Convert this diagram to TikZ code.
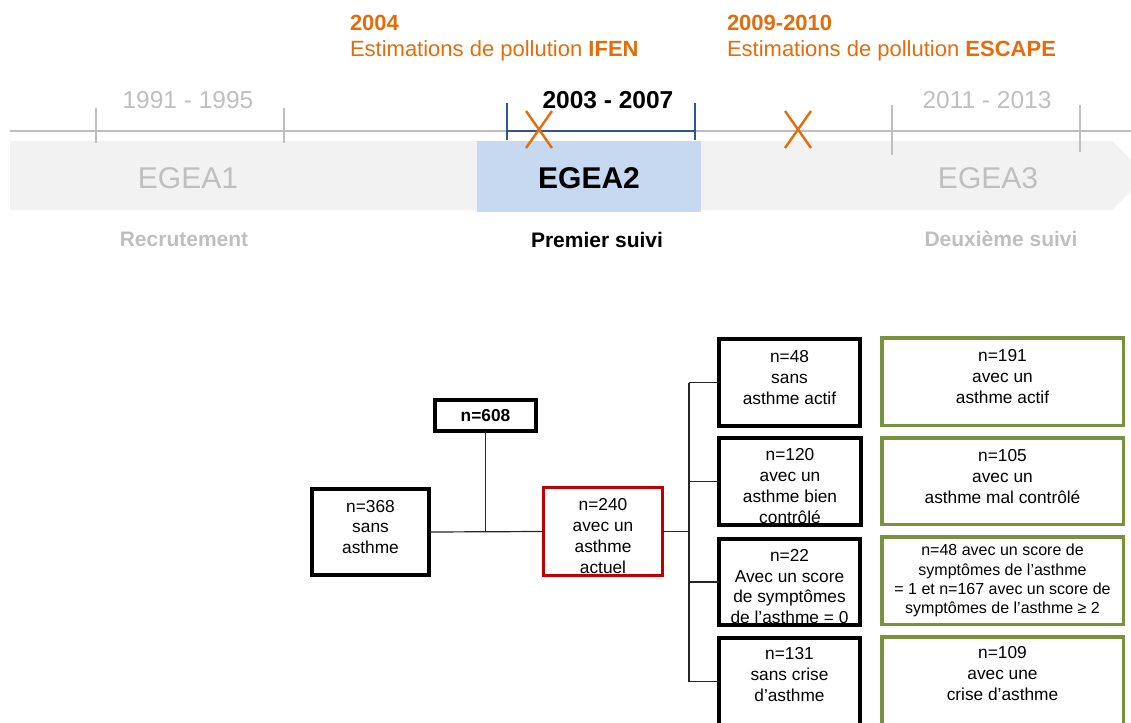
\documentclass[tikz,border=0pt]{standalone}
\usepackage{fontspec}
\setmainfont{Liberation Sans}
\usetikzlibrary{calc}

\definecolor{tlgray}{RGB}{191,191,191}
\definecolor{bandgray}{RGB}{242,242,242}
\definecolor{egeablue}{RGB}{198,217,241}
\definecolor{tlblue}{RGB}{47,85,151}
\definecolor{polorange}{RGB}{228,108,10}
\definecolor{boxred}{RGB}{192,0,0}
\definecolor{boxgreen}{RGB}{119,147,60}

\newcommand{\fsz}[1]{\fontsize{#1}{1.2\dimexpr#1pt\relax}\selectfont}

\tikzset{
  every node/.style={inner sep=0pt, outer sep=0pt},
  period/.style={text=tlgray, font=\fsz{24.5}},
  wave/.style={font=\fsz{30}},
  phase/.style={font=\bfseries\fsz{21}},
  poll/.style={text=polorange, font=\fsz{22}, anchor=west},
  cross/.style={draw=polorange, line width=2.4pt},
  tick/.style={draw=tlgray, line width=1.8pt},
  btick/.style={draw=tlblue, line width=1.8pt},
  boxtext/.style={align=center, font=\fsz{17.3}},
  blackbox/.style={draw=black, line width=4pt},
  redbox/.style={draw=boxred, line width=3pt},
  greenbox/.style={draw=boxgreen, line width=3.5pt},
  link/.style={draw=black!85, line width=1.2pt},
}

\begin{document}
\begin{tikzpicture}[x=1pt, y=-1pt]
\useasboundingbox (0,0) rectangle (1131,722);

% ---- timeline ----
\fill[bandgray] (10,141) -- (1112,141) -- (1146.5,175.5) -- (1112,210) -- (10,210) -- cycle;
\fill[egeablue] (477,141) rectangle (701,212);
\draw[tick] (10,131) -- (1131,131);
\draw[tick] (96,108) -- (96,143);
\draw[tick] (284,108) -- (284,143);
\draw[tick] (892,105) -- (892,155);
\draw[tick] (1080,105) -- (1080,152);
\draw[btick] (507,131) -- (695,131);
\draw[btick] (507,103) -- (507,140);
\draw[btick] (695,103) -- (695,140);

\node[period] (p1) at (188,100) {1991 - 1995};
\node[font=\bfseries\fsz{24.5}] (p2) at (608,100) {2003 - 2007};
\node[period] (p3) at (987,100) {2011 - 2013};

\node[wave, text=tlgray] (e1) at (188,178) {EGEA1};
\node[wave, font=\bfseries\fsz{30}] (e2) at (589,178) {EGEA2};
\node[wave, text=tlgray] (e3) at (988,178) {EGEA3};

\node[phase, text=tlgray] (r1) at (184,239) {Recrutement};
\node[phase] (r2) at (597,240) {Premier suivi};
\node[phase, text=tlgray] (r3) at (1001,239) {Deuxième suivi};

% ---- pollution estimates ----
\node[poll, font=\bfseries\fsz{22}] (y1) at (350,23) {2004};
\node[poll] (t1) at (350,51) {Estimations de pollution \textbf{IFEN}};
\node[poll, font=\bfseries\fsz{22}] (y2) at (727,23) {2009-2010};
\node[poll] (t2) at (727,51) {Estimations de pollution \textbf{ESCAPE}};

\draw[cross] (526,111) -- (552,148) (552,111) -- (526,148);
\draw[cross] (785,111) -- (811,148) (811,111) -- (785,148);

% ---- flow chart: boxes ----
\node[blackbox, minimum width=101pt, minimum height=31pt] (all) at (485.5,415.5) {};
\node[blackbox, minimum width=117pt, minimum height=86pt] (no) at (370.5,532) {};
\node[redbox, minimum width=119pt, minimum height=88pt] (cur) at (603,531.5) {};

\node[blackbox, minimum width=141pt, minimum height=87pt] (b1) at (789.5,382.5) {};
\node[blackbox, minimum width=142pt, minimum height=87pt] (b2) at (790,481.5) {};
\node[blackbox, minimum width=141pt, minimum height=86pt] (b3) at (789.5,582) {};
\node[blackbox, minimum width=141pt, minimum height=87pt] (b4) at (789.5,681.5) {};

\node[greenbox, minimum width=241.5pt, minimum height=87.5pt] (g1) at (1002.5,381.5) {};
\node[greenbox, minimum width=241.5pt, minimum height=86.5pt] (g2) at (1002.5,481) {};
\node[greenbox, minimum width=241.5pt, minimum height=87.5pt] (g3) at (1002.5,580.5) {};
\node[greenbox, minimum width=241.5pt, minimum height=87.5pt] (g4) at (1002.5,680.5) {};

% ---- flow chart: box texts ----
\node[boxtext, font=\bfseries\fsz{17.3}] (all-t) at (all.center) {n=608};
\node[boxtext] (no-t) at ([yshift=5pt]no.center) {n=368\\sans\\asthme};
\node[boxtext] (cur-t) at ([yshift=-4.5pt]cur.center) {n=240\\avec un\\asthme\\actuel};

\node[boxtext] (b1-t) at ([yshift=5pt]b1.center) {n=48\\sans\\asthme actif};
\node[boxtext] (b2-t) at ([yshift=-4.5pt]b2.center) {n=120\\avec un\\asthme bien\\contrôlé};
\node[boxtext] (b3-t) at ([yshift=-4.5pt]b3.center) {n=22\\Avec un score\\de symptômes\\de l’asthme = 0};
\node[boxtext] (b4-t) at ([yshift=7pt]b4.center) {n=131\\sans crise\\d’asthme};

\node[boxtext] (g1-t) at ([yshift=5pt]g1.center) {n=191\\avec un\\asthme actif};
\node[boxtext] (g2-t) at ([yshift=4.5pt]g2.center) {n=105\\avec un\\asthme mal contrôlé};
\node[boxtext, font=\fsz{16}] (g3-t) at (g3.center) {n=48 avec un score de\\symptômes de l’asthme\\= 1 et n=167 avec un score de\\symptômes de l’asthme ≥ 2};
\node[boxtext] (g4-t) at ([yshift=7pt]g4.center) {n=109\\avec une\\crise d’asthme};

% ---- flow chart: connectors ----
\coordinate (split) at (all.south |- no.east);
\coordinate (trunk) at (689,531.5);
\draw[link] (all.south) -- (split);
\draw[link] (no.east) -- (cur.west);
\draw[link] (cur.east) -- (trunk);
\draw[link] (trunk |- b1.west) -- (trunk |- b4.west);
\foreach \b in {b1,b2,b3,b4}
  \draw[link] (trunk |- \b.west) -- (\b.west);
\end{tikzpicture}
\end{document}
